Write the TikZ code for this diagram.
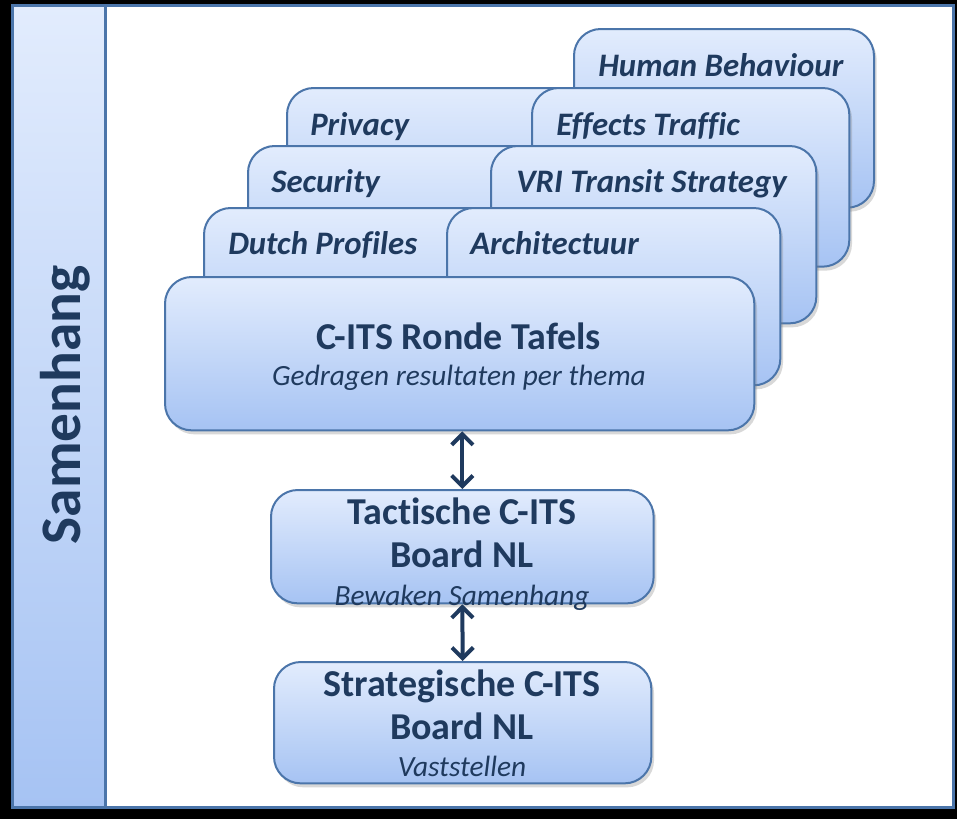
\documentclass[tikz,border=0pt]{standalone}
\usepackage{fontspec}
\setmainfont{Carlito}[Ligatures=NoCommon]
\usetikzlibrary{arrows.meta}
\usetikzlibrary{shadows}
\usetikzlibrary{positioning}

\definecolor{rimblue}{HTML}{4B75AA}
\definecolor{themetop}{HTML}{E2ECFD}
\definecolor{themebot}{HTML}{A6C3F3}
\definecolor{navytext}{HTML}{1F3A5E}

\tikzset{
  thema/.style={draw=rimblue, line width=1.5pt, rounded corners=20pt,
    top color=themetop, bottom color=themebot, anchor=north west, inner sep=0pt,
    drop shadow={shadow xshift=2pt, shadow yshift=-3pt, opacity=0.3}},
  themalabel/.style={anchor=base west, text=navytext, inner sep=0pt,
    font=\fontsize{24.6}{28}\selectfont\bfseries\itshape},
  boardtitle/.style={anchor=base, text=navytext, inner sep=0pt,
    font=\fontsize{28.5}{32}\selectfont\bfseries},
  boardsub/.style={anchor=base, text=navytext, inner sep=0pt,
    font=\fontsize{22}{25}\selectfont\itshape},
  linkarrow/.style={draw=navytext, line width=3pt,
    {Straight Barb[length=8pt,width=16pt]}-{Straight Barb[length=8pt,width=16pt]}}
}

\begin{document}
\begin{tikzpicture}[x=0.75pt,y=-0.75pt]

    \useasboundingbox (0,0) rectangle (957,819);
    \fill[black] (0,0) rectangle (957,819);

    % frame
    \draw[rimblue, line width=2.25pt, top color=themetop, bottom color=themebot] (12,5) rectangle (105,807);
    \draw[rimblue, line width=2.25pt, fill=white] (105,5) rectangle (953,807);
    \node[rotate=90, text=navytext, font=\fontsize{43}{48}\selectfont\bfseries] (samen) at (65,405) {Samenhang};

    % thema tafels
    \node[thema, minimum width=225pt, minimum height=134pt] (hb) at (573,28) {};
    \node[themalabel] (hbt) at ([shift={(25,48)}]hb.north west) {Human Behaviour};

    \node[thema, minimum width=240pt, minimum height=134pt] (pr) at (286,87) {};
    \node[themalabel] (prt) at ([shift={(24,48)}]pr.north west) {Privacy};
    \node[thema, minimum width=238pt, minimum height=134pt] (et) at (531,87) {};
    \node[themalabel] (ett) at ([shift={(25,48)}]et.north west) {Effects Traffic};

    \node[thema, minimum width=240pt, minimum height=133pt] (se) at (247,145) {};
    \node[themalabel] (set) at ([shift={(24,47)}]se.north west) {Security};
    \node[thema, minimum width=244pt, minimum height=133pt] (vri) at (490,145) {};
    \node[themalabel] (vrit) at ([shift={(26,47)}]vri.north west) {VRI Transit Strategy};

    \node[thema, minimum width=240pt, minimum height=133pt] (du) at (203,207) {};
    \node[themalabel] (dut) at ([shift={(25,47)}]du.north west) {Dutch Profiles};
    \node[thema, minimum width=250pt, minimum height=133pt] (ar) at (446,207) {};
    \node[themalabel] (art) at ([shift={(24,47)}]ar.north west) {Architectuur};

    \node[thema, minimum width=442pt, minimum height=115pt] (rt) at (164,276) {};
    \node[boardtitle] (rtt) at (459,349) {C-ITS Ronde Tafels};
    \node[boardsub] (rts) at (459,385) {Gedragen resultaten per thema};

    % boards
    \node[thema, minimum width=287pt, minimum height=85pt] (tac) at (270,489) {};
    \node[boardtitle] (tact) at (462,524) {Tactische C-ITS};
    \node[boardtitle] (tacb) at (462,567) {Board NL};
    \node[boardsub] (tacs) at (462,605) {Bewaken Samenhang};

    \node[thema, minimum width=283pt, minimum height=91pt] (str) at (273,661) {};
    \node[boardtitle] (strt) at (462,696) {Strategische C-ITS};
    \node[boardtitle] (strb) at (462,739) {Board NL};
    \node[boardsub] (strs) at (462,776) {Vaststellen};

    \draw[linkarrow] (tac.north |- rt.south) -- (tac.north);
    \draw[linkarrow] (tac.south) -- (str.north);

\end{tikzpicture}
\end{document}
